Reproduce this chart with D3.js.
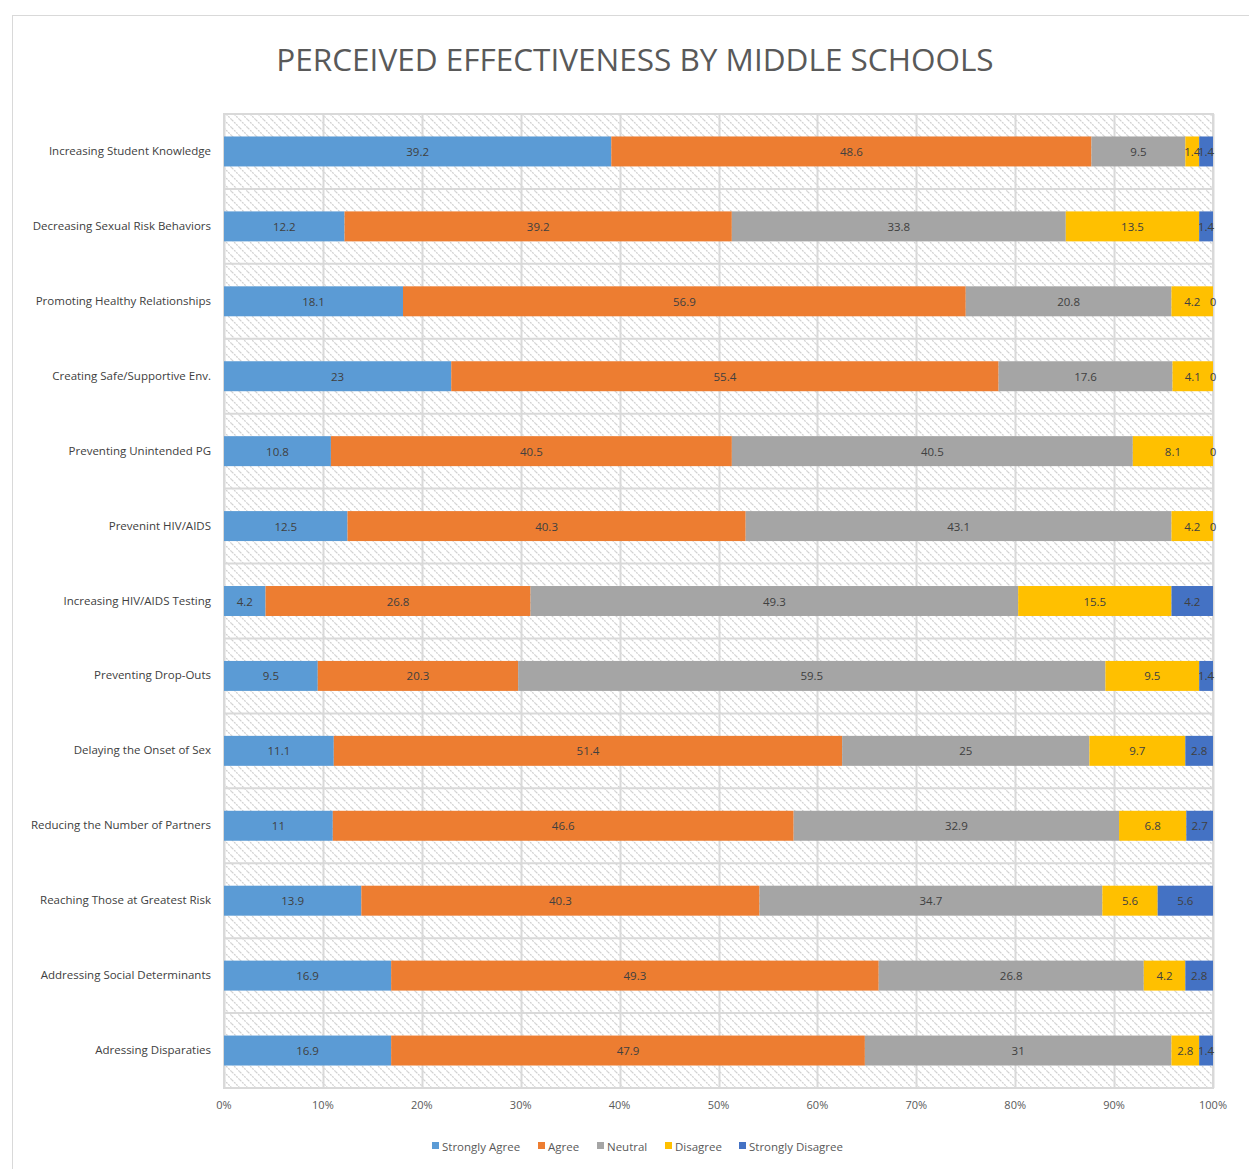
<!DOCTYPE html>
<html lang="en">
<head>
  <meta charset="utf-8">
  <title>Perceived Effectiveness by Middle Schools</title>
  <script src="https://d3js.org/d3.v7.min.js"></script>
  <style>
    body {
      margin: 0;
      background: #fff;
      font-family: "Open Sans", "Noto Sans", sans-serif;
    }
    .seg-label {
      fill: #404040;
      font-size: 11.5px;
      text-anchor: middle;
      dominant-baseline: central;
    }
    .cat-label {
      fill: #404040;
      font-size: 11.5px;
      text-anchor: end;
      dominant-baseline: central;
    }
    .tick-label {
      fill: #595959;
      font-size: 11px;
      text-anchor: middle;
    }
  </style>
</head>
<body>
<script>
  // ----------------------------------------------------
  // Data
  // ----------------------------------------------------
  const categories = [
    "Increasing Student Knowledge",
    "Decreasing Sexual Risk Behaviors",
    "Promoting Healthy Relationships",
    "Creating Safe/Supportive Env.",
    "Preventing Unintended PG",
    "Prevenint HIV/AIDS",
    "Increasing HIV/AIDS Testing",
    "Preventing Drop-Outs",
    "Delaying the Onset of Sex",
    "Reducing the Number of Partners",
    "Reaching Those at Greatest Risk",
    "Addressing Social Determinants",
    "Adressing Disparaties"
  ];

  const seriesNames = ["Strongly Agree", "Agree", "Neutral", "Disagree", "Strongly Disagree"];
  const seriesColors = ["#5B9BD5", "#ED7D31", "#A5A5A5", "#FFC000", "#4472C4"];

  const stronglyAgree    = [39.2, 12.2, 18.1, 23,   10.8, 12.5, 4.2,  9.5,  11.1, 11,   13.9, 16.9, 16.9];
  const agree            = [48.6, 39.2, 56.9, 55.4, 40.5, 40.3, 26.8, 20.3, 51.4, 46.6, 40.3, 49.3, 47.9];
  const neutral          = [9.5,  33.8, 20.8, 17.6, 40.5, 43.1, 49.3, 59.5, 25,   32.9, 34.7, 26.8, 31];
  const disagree         = [1.4,  13.5, 4.2,  4.1,  8.1,  4.2,  15.5, 9.5,  9.7,  6.8,  5.6,  4.2,  2.8];
  const stronglyDisagree = [1.4,  1.4,  0,    0,    0,    0,    4.2,  1.4,  2.8,  2.7,  5.6,  2.8,  1.4];

  const tickValues = [0, 0.1, 0.2, 0.3, 0.4, 0.5, 0.6, 0.7, 0.8, 0.9, 1.0];

  const seriesValues = [stronglyAgree, agree, neutral, disagree, stronglyDisagree];
  const rows = categories.map((c, i) => {
    const r = { category: c };
    seriesNames.forEach((s, j) => { r[s] = seriesValues[j][i]; });
    return r;
  });

  // ----------------------------------------------------
  // Layout
  // ----------------------------------------------------
  const width = 1249, height = 1169;
  const plot = { left: 224, right: 1213, top: 114, bottom: 1088 };

  const svg = d3.select("body").append("svg")
    .attr("width", width)
    .attr("height", height);

  // hatch pattern for the plot area
  const pat = svg.append("defs").append("pattern")
    .attr("id", "hatch")
    .attr("patternUnits", "userSpaceOnUse")
    .attr("width", 8)
    .attr("height", 8);
  pat.append("rect").attr("width", 8).attr("height", 8).attr("fill", "#fff");
  pat.append("path")
    .attr("d", "M0,0L8,8M-1,7L1,9M7,-1L9,1")
    .attr("stroke", "#d0d0d0")
    .attr("stroke-width", 1.2)
    .attr("stroke-dasharray", "2,1");

  // chart border
  svg.append("rect")
    .attr("x", 12.5).attr("y", 15.5)
    .attr("width", 1260).attr("height", 1200)
    .attr("fill", "none")
    .attr("stroke", "#d9d9d9");

  // title
  svg.append("text")
    .attr("x", 635).attr("y", 71)
    .attr("text-anchor", "middle")
    .attr("fill", "#595959")
    .attr("font-size", "31.5px")
    .attr("font-family", "'Open Sans', sans-serif")
    .text("PERCEIVED EFFECTIVENESS BY MIDDLE SCHOOLS");

  // scales
  const x = d3.scaleLinear().domain([0, 1]).range([plot.left, plot.right]);
  const y = d3.scaleBand().domain(categories).range([plot.top, plot.bottom]).paddingInner(0.6).paddingOuter(0.3);
  const yBand = d3.scaleBand().domain(categories).range([plot.top, plot.bottom]);

  // plot background
  svg.append("rect")
    .attr("x", plot.left).attr("y", plot.top)
    .attr("width", plot.right - plot.left)
    .attr("height", plot.bottom - plot.top)
    .attr("fill", "url(#hatch)");

  // vertical gridlines
  svg.append("g").selectAll("line")
    .data(tickValues)
    .join("line")
    .attr("x1", d => Math.round(x(d)) + 0.5).attr("x2", d => Math.round(x(d)) + 0.5)
    .attr("y1", plot.top).attr("y2", plot.bottom)
    .attr("stroke", "#d9d9d9")
    .attr("stroke-width", 2);

  // horizontal band lines
  svg.append("g").selectAll("line")
    .data(categories.slice(1))
    .join("line")
    .attr("x1", plot.left).attr("x2", plot.right)
    .attr("y1", d => yBand(d)).attr("y2", d => yBand(d))
    .attr("stroke", "#d9d9d9")
    .attr("stroke-width", 2);

  // plot frame
  svg.append("rect")
    .attr("x", plot.left).attr("y", plot.top)
    .attr("width", plot.right - plot.left)
    .attr("height", plot.bottom - plot.top)
    .attr("fill", "none")
    .attr("stroke", "#d9d9d9")
    .attr("stroke-width", 2);

  // stacked bars
  const stack = d3.stack().keys(seriesNames).offset(d3.stackOffsetExpand);
  const stacked = stack(rows);
  const color = d3.scaleOrdinal().domain(seriesNames).range(seriesColors);

  const layers = svg.append("g").selectAll("g")
    .data(stacked)
    .join("g")
    .attr("fill", d => color(d.key));

  layers.selectAll("rect")
    .data(d => d)
    .join("rect")
    .attr("x", d => x(d[0]))
    .attr("y", d => y(d.data.category))
    .attr("width", d => x(d[1]) - x(d[0]))
    .attr("height", y.bandwidth());

  // segment labels
  const labels = svg.append("g");
  stacked.forEach(layer => {
    labels.selectAll(null)
      .data(layer)
      .join("text")
      .attr("class", "seg-label")
      .attr("x", d => (x(d[0]) + x(d[1])) / 2)
      .attr("y", d => y(d.data.category) + y.bandwidth() / 2)
      .text(d => d.data[layer.key]);
  });

  // category labels
  svg.append("g").selectAll("text")
    .data(categories)
    .join("text")
    .attr("class", "cat-label")
    .attr("x", 211)
    .attr("y", d => y(d) + y.bandwidth() / 2 - 1)
    .text(d => d);

  // x tick labels
  svg.append("g").selectAll("text")
    .data(tickValues)
    .join("text")
    .attr("class", "tick-label")
    .attr("x", d => x(d))
    .attr("y", 1109)
    .text(d => d3.format(".0%")(d));

  // legend
  const legendItems = [
    { name: "Strongly Agree", x: 432 },
    { name: "Agree", x: 538 },
    { name: "Neutral", x: 597 },
    { name: "Disagree", x: 665 },
    { name: "Strongly Disagree", x: 739 }
  ];
  const legend = svg.append("g").selectAll("g")
    .data(legendItems)
    .join("g")
    .attr("transform", d => `translate(${d.x},1142)`);
  legend.append("rect")
    .attr("width", 7).attr("height", 7)
    .attr("fill", d => color(d.name));
  legend.append("text")
    .attr("x", 10).attr("y", 4)
    .attr("dominant-baseline", "central")
    .attr("fill", "#595959")
    .attr("font-size", "11.5px")
    .text(d => d.name);
</script>
</body>
</html>
